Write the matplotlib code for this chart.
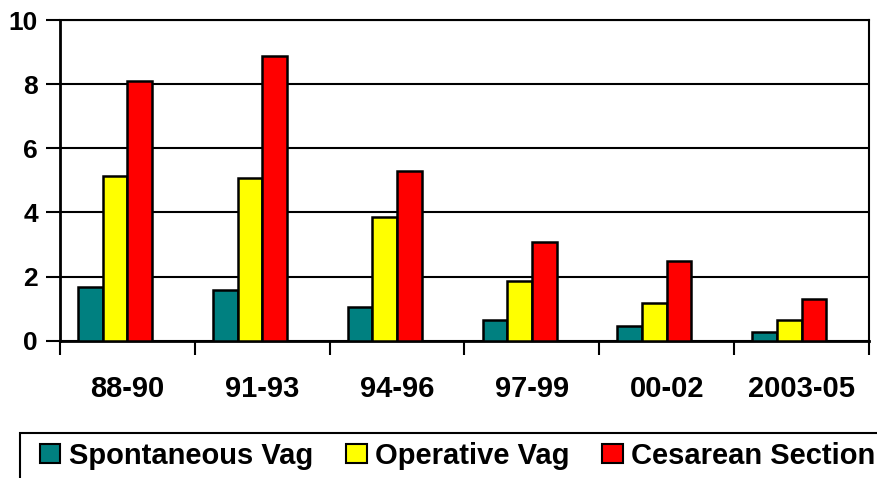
import numpy as np
import matplotlib
matplotlib.use("Agg")
import matplotlib.pyplot as plt
from matplotlib.patches import Rectangle, Patch

# periodos y valores de cada serie
periodos = ["88-90", "91-93", "94-96", "97-99", "00-02", "2003-05"]
espontaneo = [1.66, 1.58, 1.05, 0.64, 0.46, 0.27]
operativo = [5.14, 5.06, 3.85, 1.86, 1.19, 0.64]
cesarea = [8.11, 8.88, 5.29, 3.07, 2.50, 1.31]
nombres = ["Spontaneous Vag", "Operative Vag", "Cesarean Section"]
colores = ["#008080", "#FFFF00", "#FF0000"]

plt.rcParams["font.family"] = ["Liberation Sans", "DejaVu Sans"]
plt.rcParams["font.weight"] = "bold"

fig = plt.figure(figsize=(8.78, 4.78), dpi=100)
ax = fig.add_axes([60 / 878, 1 - 340.7 / 478, (869 - 60) / 878, (340.7 - 20) / 478])

x = np.arange(len(periodos))
w = 0.183
for i, (serie, c) in enumerate(zip([espontaneo, operativo, cesarea], colores)):
    ax.bar(x + (i - 1.5) * w, serie, width=w, color=c, edgecolor="black",
           linewidth=1.8, zorder=3)

ax.set_xlim(-0.5, len(periodos) - 0.5)
ax.set_ylim(0, 10)
ax.set_yticks(np.arange(0, 11, 2))
ax.yaxis.grid(True, color="black", linewidth=1.5, zorder=0)
ax.set_axisbelow(True)

ax.set_xticks(x)
ax.set_xticklabels(periodos, fontsize=21, fontweight="bold")
ax.set_xticks(np.arange(-0.5, len(periodos)), minor=True)
ax.tick_params(axis="x", which="major", length=0, pad=25)
ax.tick_params(axis="x", which="minor", length=10, width=1.5, direction="out")
ax.tick_params(axis="y", length=10, width=1.5, direction="out", pad=6, labelsize=19)
for lab in ax.get_yticklabels():
    lab.set_fontweight("bold")

for s in ["left", "bottom"]:
    ax.spines[s].set_linewidth(2)
for s in ["right", "top"]:
    ax.spines[s].set_linewidth(1.5)

# marco de la leyenda (sale del borde de la figura)
fig.add_artist(Rectangle((20 / 878, -0.2), 1.0, 0.2 + (478 - 433) / 478,
                         transform=fig.transFigure, fill=False,
                         edgecolor="black", linewidth=1.5))
handles = [Patch(facecolor=c, edgecolor="black", linewidth=1.5, label=n)
           for c, n in zip(colores, nombres)]
fig.legend(handles=handles, loc="center left", bbox_to_anchor=(40 / 878, 1 - 456 / 478),
           ncol=3, frameon=False, borderpad=0, borderaxespad=0,
           handlelength=0.7, handleheight=0.62, handletextpad=0.28,
           columnspacing=1.14, prop={"size": 21, "weight": "bold"})

fig.savefig("out.png", dpi=100)
